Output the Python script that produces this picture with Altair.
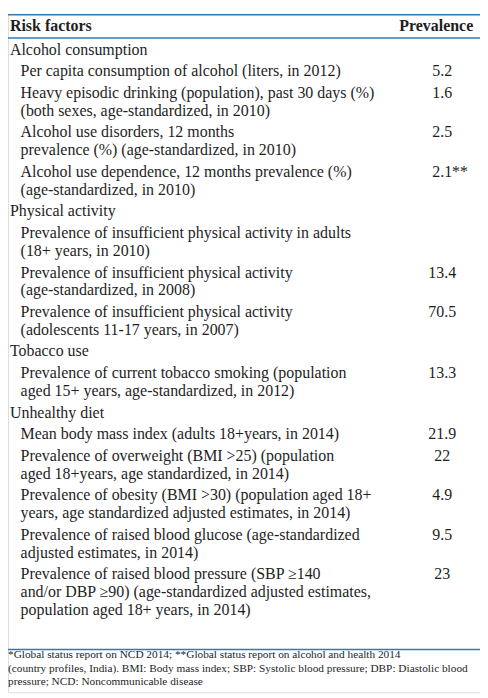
import altair as alt
import pandas as pd

# ---------------- data ----------------
header_left = "Risk factors"
header_right = "Prevalence"

categories = ["Alcohol consumption", "Physical activity", "Tobacco use", "Unhealthy diet"]

item_texts = [
    ["Per capita consumption of alcohol (liters, in 2012)"],
    ["Heavy episodic drinking (population), past 30 days (%)",
     "(both sexes, age-standardized, in 2010)"],
    ["Alcohol use disorders, 12 months",
     "prevalence (%) (age-standardized, in 2010)"],
    ["Alcohol use dependence, 12 months prevalence (%)",
     "(age-standardized, in 2010)"],
    ["Prevalence of insufficient physical activity in adults",
     "(18+ years, in 2010)"],
    ["Prevalence of insufficient physical activity",
     "(age-standardized, in 2008)"],
    ["Prevalence of insufficient physical activity",
     "(adolescents 11-17 years, in 2007)"],
    ["Prevalence of current tobacco smoking (population",
     "aged 15+ years, age-standardized, in 2012)"],
    ["Mean body mass index (adults 18+years, in 2014)"],
    ["Prevalence of overweight (BMI >25) (population",
     "aged 18+years, age standardized, in 2014)"],
    ["Prevalence of obesity (BMI >30) (population aged 18+",
     "years, age standardized adjusted estimates, in 2014)"],
    ["Prevalence of raised blood glucose (age-standardized",
     "adjusted estimates, in 2014)"],
    ["Prevalence of raised blood pressure (SBP \u2265140",
     "and/or DBP \u226590) (age-standardized adjusted estimates,",
     "population aged 18+ years, in 2014)"],
]
item_category = [0, 0, 0, 0, 1, 1, 1, 2, 3, 3, 3, 3, 3]
item_values = ["5.2", "1.6", "2.5", "2.1", "", "13.4", "70.5", "13.3",
               "21.9", "22", "4.9", "9.5", "23"]
item_notes = ["", "", "", "**", "", "", "", "", "", "", "", "", ""]

footnotes = [
    "*Global status report on NCD 2014; **Global status report on alcohol and health 2014",
    "(country profiles, India). BMI: Body mass index; SBP: Systolic blood pressure; DBP: Diastolic blood",
    "pressure; NCD: Noncommunicable disease",
]

# ---------------- layout (table rows -> line positions) ----------------
LINE = 18.3
GAP = 4.0
HEADER_Y = 13.0
FIRST_ROW_Y = 37.0
FOOT_Y = 660.0
FOOT_LINE = 14.0

rows = []
y = FIRST_ROW_Y
for ci, cat in enumerate(categories):
    rows.append({"text": cat, "pos": y, "role": "category"})
    y += LINE + GAP
    for ii, lines in enumerate(item_texts):
        if item_category[ii] != ci:
            continue
        for li, t in enumerate(lines):
            rows.append({"text": t, "pos": y + li * LINE, "role": "item"})
        rows.append({"text": item_values[ii], "pos": y, "role": "value"})
        if item_notes[ii]:
            rows.append({"text": item_notes[ii], "pos": y, "role": "note"})
        y += len(lines) * LINE + GAP
for fi, t in enumerate(footnotes):
    rows.append({"text": t, "pos": FOOT_Y + fi * FOOT_LINE, "role": "foot"})
rows.append({"text": header_left, "pos": HEADER_Y, "role": "hleft"})
rows.append({"text": header_right, "pos": HEADER_Y, "role": "hright"})

df = pd.DataFrame(rows)
rules = pd.DataFrame({"pos": [1.0, 25.0, 654.0]})

W, H = 480, 690
SX = W / 488.0
yscale = alt.Scale(domain=[0, 698], range=[0, H])
Y = alt.Y("pos:Q", scale=yscale, axis=None)

FONT = "Liberation Serif"
FS = 16.2
COLOR = "#1e1e1e"
LINE_COLOR = "#2f7cb0"

base = alt.Chart(df)

def layer(role, x, align="left", size=FS, weight="normal"):
    return base.transform_filter(alt.datum.role == role).mark_text(
        align=align, baseline="middle", font=FONT, fontSize=size,
        fontWeight=weight, color=COLOR
    ).encode(x=alt.value(x * SX), y=Y, text="text:N")

rule_layer = alt.Chart(rules).mark_rule(color=LINE_COLOR, strokeWidth=1.5).encode(
    y=Y, x=alt.value(0), x2=alt.value(W)
)

chart = alt.layer(
    rule_layer,
    layer("hleft", 2, weight="bold"),
    layer("hright", 481, align="right", weight="bold"),
    layer("category", 2),
    layer("item", 13),
    layer("value", 449, align="center"),
    layer("note", 459),
    layer("foot", 0, size=11.5),
).properties(
    width=W, height=H, padding=0, autosize=alt.AutoSizeParams(type="none")
).configure_view(stroke=None).configure(background="white")

chart.save("out.html", embed_options={"renderer": "svg", "actions": False})
